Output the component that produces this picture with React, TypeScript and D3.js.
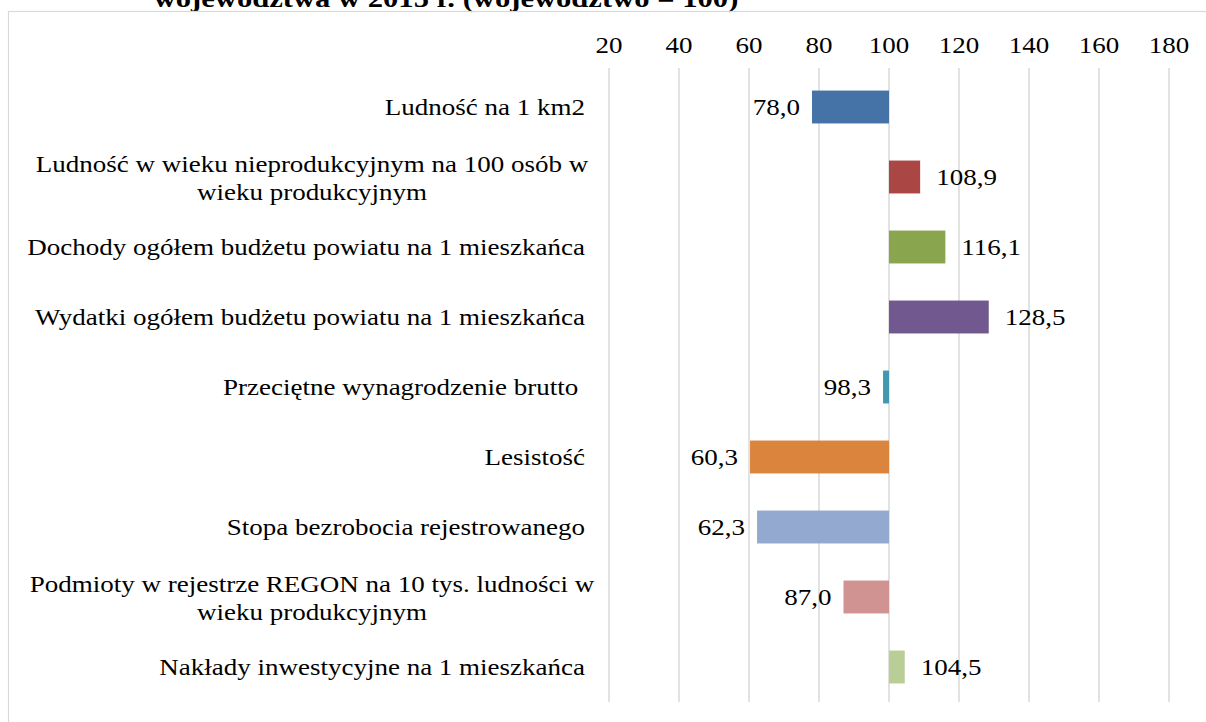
import React from "react";
import * as d3 from "d3";

const categories: string[][] = [
  ["Ludność na 1 km2"],
  ["Ludność w wieku nieprodukcyjnym na 100 osób w", "wieku produkcyjnym"],
  ["Dochody ogółem budżetu powiatu na 1 mieszkańca"],
  ["Wydatki ogółem budżetu powiatu na 1 mieszkańca"],
  ["Przeciętne wynagrodzenie brutto "],
  ["Lesistość"],
  ["Stopa bezrobocia rejestrowanego"],
  ["Podmioty w rejestrze REGON na 10 tys. ludności w", "wieku produkcyjnym"],
  ["Nakłady inwestycyjne na 1 mieszkańca"],
];
const values: number[] = [78.0, 108.9, 116.1, 128.5, 98.3, 60.3, 62.3, 87.0, 104.5];
const colors: string[] = [
  "#4572A7", "#AA4643", "#89A54E", "#71588F", "#4198AF",
  "#DB843D", "#93A9CF", "#D19392", "#B9CD96",
];
const ticks: number[] = [20, 40, 60, 80, 100, 120, 140, 160, 180];
const baseValue = 100;
const title = "województwa w 2015 r. (województwo = 100)";

const SX = 1.2;

function T(props: { x: number; y: number; anchor?: string; size: number; bold?: boolean; children: React.ReactNode }) {
  const { x, y, anchor = "start", size, bold, children } = props;
  return (
    <text
      transform={`translate(${x},${y}) scale(${SX},1)`}
      textAnchor={anchor}
      fontSize={size}
      fontWeight={bold ? "bold" : "normal"}
      style={{ whiteSpace: "pre" }}
      fill="#000"
    >
      {children}
    </text>
  );
}

export default function App() {
  const W = 1206, H = 722;
  const x = d3.scaleLinear().domain([20, 180]).range([609, 1169]);
  const y = d3.scaleBand<number>().domain(d3.range(values.length)).range([72, 702]).paddingInner(0.53).paddingOuter(0.265);
  const font = "Liberation Serif, Times New Roman, serif";
  const fs = 22.5;
  const fmt = (v: number) => v.toFixed(1).replace(".", ",");
  return (
    <svg width={W} height={H} style={{ position: "absolute", left: 0, top: 0, fontFamily: font }}>
      <rect x={0} y={0} width={W} height={H} fill="#fff" />
      <T x={446} y={7} anchor="middle" size={25.5} bold>{title}</T>
      <rect x={8.5} y={11.5} width={W} height={H} fill="none" stroke="#d9d9d9" strokeWidth={1.2} />
      {ticks.map((t) => (
        <g key={t}>
          <line x1={x(t)} x2={x(t)} y1={68} y2={702} stroke="#d9d9d9" strokeWidth={1.5} />
          <T x={x(t)} y={53} anchor="middle" size={fs}>{t}</T>
        </g>
      ))}
      {values.map((v, i) => {
        const x0 = Math.min(x(v), x(baseValue));
        const x1 = Math.max(x(v), x(baseValue));
        const yc = y(i)! + y.bandwidth() / 2;
        const right = v >= baseValue;
        return (
          <g key={i}>
            <rect x={x0} y={y(i)} width={x1 - x0} height={y.bandwidth()} fill={colors[i]} />
            <T x={right ? x1 + 16 : x0 - 12} y={yc + 8} anchor={right ? "start" : "end"} size={fs}>{fmt(v)}</T>
          </g>
        );
      })}
      {categories.map((lines, i) => {
        const yc = y(i)! + y.bandwidth() / 2;
        if (lines.length === 1) {
          return <T key={i} x={585} y={yc + 8} anchor="end" size={fs}>{lines[0]}</T>;
        }
        return (
          <g key={i}>
            {lines.map((l, j) => (
              <T key={j} x={312} y={yc - 5 + j * 28} anchor="middle" size={fs}>{l}</T>
            ))}
          </g>
        );
      })}
    </svg>
  );
}
